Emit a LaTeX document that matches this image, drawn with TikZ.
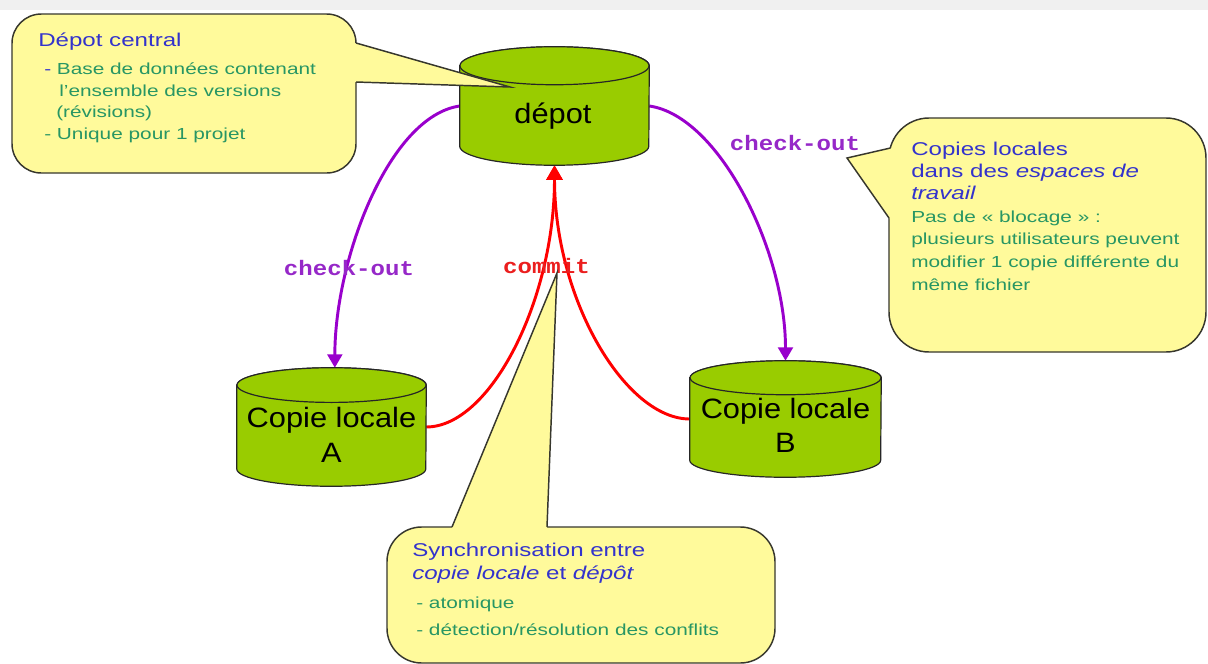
\documentclass[tikz,border=0pt]{standalone}
\usepackage{fontspec}
\setmainfont{Liberation Sans}
\newfontfamily\callfont[FakeStretch=1.3]{Liberation Sans}
\newfontfamily\cylfont[FakeStretch=1.1]{Liberation Sans}
\newfontfamily\codefont[FakeStretch=1.15]{Liberation Mono}
\usetikzlibrary{arrows.meta}
\definecolor{calloutfill}{RGB}{255,250,155}
\definecolor{calloutline}{RGB}{55,55,45}
\definecolor{cylgreen}{RGB}{153,204,0}
\definecolor{headblue}{RGB}{51,51,204}
\definecolor{bodygreen}{RGB}{40,150,100}
\definecolor{copurple}{RGB}{153,0,204}
\definecolor{labpurple}{RGB}{150,40,200}
\definecolor{cored}{RGB}{255,0,0}
\definecolor{labred}{RGB}{235,30,30}
\newcommand{\drawcyl}[3]{%
  \draw[cylbody] ([yshift=-#2]#1.north west) -- ([yshift=#2]#1.south west)
    arc[start angle=180,end angle=360,x radius=#3,y radius=#2]
    -- ([yshift=-#2]#1.north east)
    arc[start angle=0,end angle=180,x radius=#3,y radius=#2] -- cycle;
  \draw[cylbody] ([yshift=-#2]#1.north) ellipse[x radius=#3,y radius=#2];
}
\begin{document}
\begin{tikzpicture}[x=0.75pt,y=-0.75pt,
  cylbox/.style={draw=none,inner sep=0,minimum width=141.75pt,minimum height=88.5pt},
  cylbody/.style={fill=cylgreen,draw=black!85,line width=0.9pt},
  callout/.style={rectangle,rounded corners=#1,fill=calloutfill,draw=calloutline,line width=1.1pt,inner sep=0},
  callout/.default=24pt,
  wedgefill/.style={fill=calloutfill},
  wedgeline/.style={draw=calloutline,line width=1.1pt,line join=miter},
  heading/.style={anchor=base west,inner sep=0,text=headblue,font=\callfont\fontsize{13.9}{16}\selectfont},
  body/.style={anchor=base west,inner sep=0,text=bodygreen,font=\callfont\fontsize{12}{14}\selectfont},
  cyltext/.style={anchor=base,inner sep=0,text=black,font=\cylfont\fontsize{21}{25}\selectfont},
  codelabel/.style={anchor=base,inner sep=0,font=\codefont\bfseries\fontsize{15.7}{18}\selectfont},
  checkoutarrow/.style={draw=copurple,line width=2.2pt,-{Triangle[width=11pt,length=10pt]}},
  commitarrow/.style={draw=cored,line width=2.2pt,-{Triangle[width=12pt,length=11pt]}}
]
\useasboundingbox (0,0) rectangle (1208,664);
\fill[white] (0,0) rectangle (1208,664);
\fill[black!6] (0,0) rectangle (1208,10);

% cylinder nodes
\node[cylbox] (depot) at (554.5,106) {};
\node[cylbox] (A) at (331.5,427) {};
\node[cylbox,minimum width=143.25pt,minimum height=87pt] (B) at (785.5,419) {};

% connectors
\draw[checkoutarrow] (depot.west) .. controls +(-70,10) and +(0,-110) .. ([xshift=2.5pt]A.north);
\draw[checkoutarrow] (depot.east) .. controls +(70,10) and +(0,-110) .. (B.north);
\draw[commitarrow] (A.east) .. controls +(64,0) and +(0,135) .. (depot.south);
\draw[commitarrow] (B.west) .. controls +(-64,0) and +(0,135) .. (depot.south);

% cylinders
\drawcyl{depot}{14.25pt}{70.9pt}
\drawcyl{A}{13pt}{70.9pt}
\drawcyl{B}{12.75pt}{71.6pt}
\node[cyltext] (depotlbl) at (553,123) {dépot};
\node[cyltext] (Alb1) at (331.5,427) {Copie locale};
\node[cyltext] (Alb2) at (331.5,462) {A};
\node[cyltext] (Blb1) at (785.5,418) {Copie locale};
\node[cyltext] (Blb2) at (785.5,452) {B};

% connector labels
\node[codelabel,text=labpurple] (co1) at (349,275) {check-out};
\node[codelabel,text=labpurple] (co2) at (795,150) {check-out};
\node[codelabel,text=labred] (cm) at (546.5,273) {commit};

% callout: depot central
\node[callout=22pt,minimum width=258pt,minimum height=119.25pt] (dc) at (184,93.5) {};
\coordinate (dcA) at (356,43);
\coordinate (dcB) at (356,82);
\coordinate (dcT) at (510,87);
\fill[wedgefill] (dcA) -- (dcT) -- (dcB) -- ([xshift=-4pt]dcB) -- ([xshift=-4pt]dcA) -- cycle;
\draw[wedgeline] (dcA) -- (dcT) -- (dcB);
\node[heading] (dcH) at (38,46) {Dépot central};
\node[body] (dc1) at (44,74) {\textcolor{headblue}{-} Base de données contenant};
\node[body] (dc2) at (59,96) {l’ensemble des versions};
\node[body] (dc3) at (56,117) {(révisions)};
\node[body] (dc4) at (44,139) {- Unique pour 1 projet};

% callout: copies locales
\node[callout=30pt,minimum width=237.75pt,minimum height=175.5pt] (lc) at (1047.5,235) {};
\coordinate (lcA) at (890.5,148);
\coordinate (lcB) at (889,218);
\coordinate (lcT) at (847,158);
\fill[wedgefill] (lcA) -- (lcT) -- (lcB) -- ([xshift=5pt]lcB) -- ([xshift=5pt]lcA) -- cycle;
\draw[wedgeline] (lcA) -- (lcT) -- (lcB);
\node[heading] (lcH1) at (911,155) {Copies locales};
\node[heading] (lcH2) at (911,177) {dans des \textit{espaces de}};
\node[heading] (lcH3) at (911,199) {\textit{travail}};
\node[body] (lc1) at (911,222) {Pas de « blocage » :};
\node[body] (lc2) at (911,244) {plusieurs utilisateurs peuvent};
\node[body] (lc3) at (911,267) {modifier 1 copie différente du};
\node[body] (lc4) at (911,290) {même fichier};

% callout: synchronisation
\node[callout=26pt,minimum width=291pt,minimum height=102pt] (sc) at (581,595) {};
\coordinate (scA) at (452,527);
\coordinate (scB) at (547,527);
\coordinate (scT) at (557,273);
\fill[wedgefill] (scA) -- (scT) -- (scB) -- ([yshift=-4pt]scB) -- ([yshift=-4pt]scA) -- cycle;
\draw[wedgeline] (scA) -- (scT) -- (scB);
\node[heading] (scH1) at (412,556) {Synchronisation entre};
\node[heading] (scH2) at (412,579) {\textit{copie locale} et \textit{dépôt}};
\node[body] (sc1) at (416,608) {- atomique};
\node[body] (sc2) at (416,635) {- détection/résolution des conflits};
\end{tikzpicture}
\end{document}
